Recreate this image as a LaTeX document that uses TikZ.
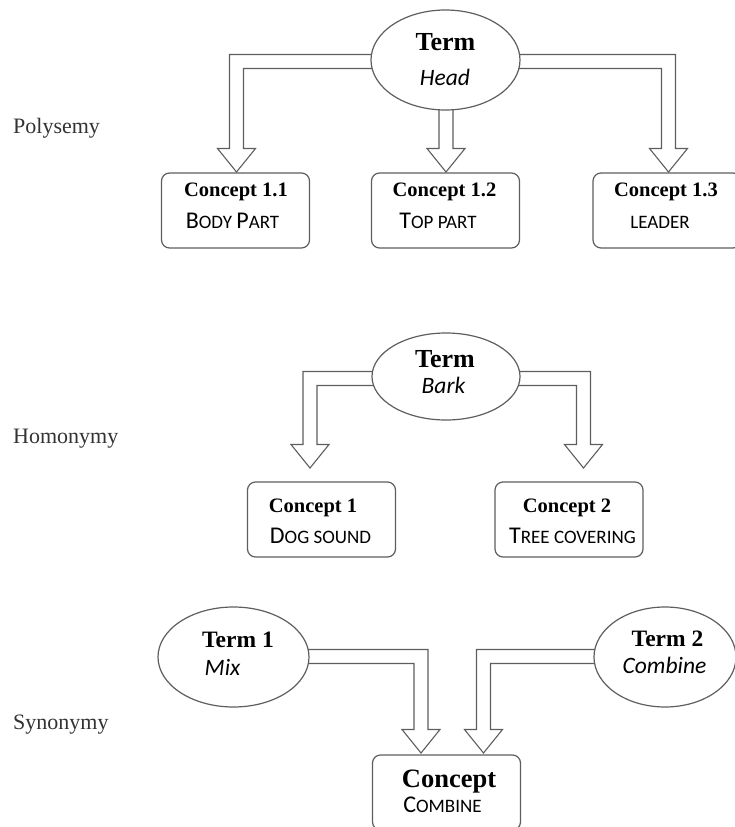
\documentclass[tikz,border=0pt]{standalone}
\usepackage{fontspec}
\setmainfont{Liberation Serif}
\newfontfamily\carlito{Carlito}
\usetikzlibrary{calc,shapes.geometric}
\pgfdeclarelayer{background}
\pgfsetlayers{background,main}

% hand-made small capitals
\newcommand\scbig[1]{{\fontsize{24}{24}\selectfont #1}}
\newcommand\scsmall[1]{{\fontsize{19}{19}\selectfont #1}}

% block arrow geometry: shaft half width, head half width, head length
\def\arrsw{7pt}
\def\arrhw{19pt}
\def\arrhl{23.5pt}

% hollow arrow that runs sideways from #1, turns down and ends at #2;
% #3 is +1 when it runs to the right, -1 when it runs to the left
\newcommand\bentarrow[3]{%
  \path[blockarrow] let \p1=(#1), \p2=(#2) in
    (\x1,{\y1+\arrsw}) -- ({\x2+(#3)*\arrsw},{\y1+\arrsw})
    -- ({\x2+(#3)*\arrsw},{\y2+\arrhl}) -- ({\x2+(#3)*\arrhw},{\y2+\arrhl})
    -- (\x2,\y2)
    -- ({\x2-(#3)*\arrhw},{\y2+\arrhl}) -- ({\x2-(#3)*\arrsw},{\y2+\arrhl})
    -- ({\x2-(#3)*\arrsw},{\y1-\arrsw}) -- (\x1,{\y1-\arrsw}) -- cycle;}

% hollow arrow straight down from #1 to #2
\newcommand\dropblock[2]{%
  \path[blockarrow] let \p1=(#1), \p2=(#2) in
    ({\x2-\arrsw},\y1) -- ({\x2-\arrsw},{\y2+\arrhl}) -- ({\x2-\arrhw},{\y2+\arrhl})
    -- (\x2,\y2)
    -- ({\x2+\arrhw},{\y2+\arrhl}) -- ({\x2+\arrsw},{\y2+\arrhl})
    -- ({\x2+\arrsw},\y1) -- cycle;}

\definecolor{edge}{HTML}{5E5E5E}

\begin{document}
\begin{tikzpicture}[x=1pt,y=-1pt,
  termshape/.style={ellipse,draw=edge,line width=1.2pt,fill=white,inner sep=0pt},
  conceptbox/.style={rectangle,rounded corners=8pt,draw=edge,line width=1.2pt,fill=white,
    minimum width=148,minimum height=75,inner sep=0pt},
  blockarrow/.style={draw=edge,line width=1.1pt,fill=white,line join=miter},
  txt/.style={inner sep=0pt,anchor=base},
  termbig/.style={txt,font=\fontsize{26}{26}\selectfont\bfseries},
  termnum/.style={txt,font=\fontsize{23.5}{23.5}\selectfont\bfseries},
  wordit/.style={txt,font=\carlito\itshape\fontsize{23.5}{23.5}\selectfont},
  cpt/.style={txt,font=\fontsize{20.5}{20.5}\selectfont\bfseries},
  cptbig/.style={txt,font=\fontsize{26.5}{26.5}\selectfont\bfseries},
  meaning/.style={txt,font=\carlito},
  rowlabel/.style={inner sep=0pt,anchor=base west,text=black!80,font=\fontsize{22}{22}\selectfont}]

\useasboundingbox (0,0) rectangle (735,827);
\clip (0,0) rectangle (735,827);

% ---------------- Polysemy ----------------
\node[rowlabel] (lpoly) at (13,133) {Polysemy};
\node[termshape,minimum width=149,minimum height=100] (tp) at (445.5,60) {};
\node[termbig] (tpa) at (445.5,50) {Term};
\node[wordit] (tpb) at (445,85) {Head};

\node[conceptbox] (c11) at (235.5,210.5) {};
\node[conceptbox] (c12) at (445.5,210.5) {};
\node[conceptbox] (c13) at (667,210.5) {};
\node[cpt] (c11a) at (236,196) {Concept 1.1};
\node[meaning] (c11b) at (232.5,228) {\scbig{B}\scsmall{ODY }\scbig{P}\scsmall{ART}};
\node[cpt] (c12a) at (444.5,196) {Concept 1.2};
\node[meaning] (c12b) at (438,228) {\scbig{T}\scsmall{OP PART}};
\node[cpt] (c13a) at (666,196) {Concept 1.3};
\node[meaning] (c13b) at (660,228) {\scsmall{LEADER}};

\coordinate (pS) at ($(tp.center)+(0,1.5)$);
\coordinate (pLtip) at (236.5,172);
\coordinate (pMtip) at (446,172);
\coordinate (pRtip) at (668.5,172);

% ---------------- Homonymy ----------------
\node[rowlabel] (lhomo) at (13,443) {Homonymy};
\node[termshape,minimum width=148,minimum height=87] (th) at (446,376.5) {};
\node[termbig] (tha) at (445,367) {Term};
\node[wordit] (thb) at (443.5,393) {Bark};

\node[conceptbox] (h1) at (321.5,519.5) {};
\node[conceptbox] (h2) at (569,519.5) {};
\node[cpt] (h1a) at (313,512) {Concept 1};
\node[meaning] (h1b) at (320.5,543) {\scbig{D}\scsmall{OG SOUND}};
\node[cpt] (h2a) at (567,512) {Concept 2};
\node[meaning] (h2b) at (572.5,543) {\scbig{T}\scsmall{REE COVERING}};

\coordinate (hS) at ($(th.center)+(0,2)$);
\coordinate (hLtip) at (310,468);
\coordinate (hRtip) at (583.5,468);

% ---------------- Synonymy ----------------
\node[rowlabel] (lsyn) at (13,729) {Synonymy};
\node[termshape,minimum width=151,minimum height=100] (t1) at (233.5,657) {};
\node[termshape,minimum width=142,minimum height=100] (t2) at (665,657) {};
\node[termnum] (t1a) at (238,647) {Term 1};
\node[wordit,anchor=base west] (t1b) at (204.5,675) {Mix};
\node[termnum] (t2a) at (667.5,646) {Term 2};
\node[wordit] (t2b) at (664.5,673) {Combine};

\node[conceptbox,minimum height=75] (sc) at (446.5,792.5) {};
\node[cptbig] (sca) at (449,787) {Concept};
\node[meaning] (scb) at (442.5,812) {\scbig{C}\scsmall{OMBINE}};

\coordinate (s1S) at ($(t1.center)+(0,-0.5)$);
\coordinate (s2S) at ($(t2.center)+(0,-0.5)$);
\coordinate (s1tip) at (421,753);
\coordinate (s2tip) at (483.5,753);

% ---------------- connectors (behind the shapes) ----------------
\begin{pgfonlayer}{background}
\bentarrow{pS}{pLtip}{-1}
\dropblock{pS}{pMtip}
\bentarrow{pS}{pRtip}{1}
\bentarrow{hS}{hLtip}{-1}
\bentarrow{hS}{hRtip}{1}
\bentarrow{s1S}{s1tip}{1}
\bentarrow{s2S}{s2tip}{-1}
\end{pgfonlayer}
\end{tikzpicture}
\end{document}
